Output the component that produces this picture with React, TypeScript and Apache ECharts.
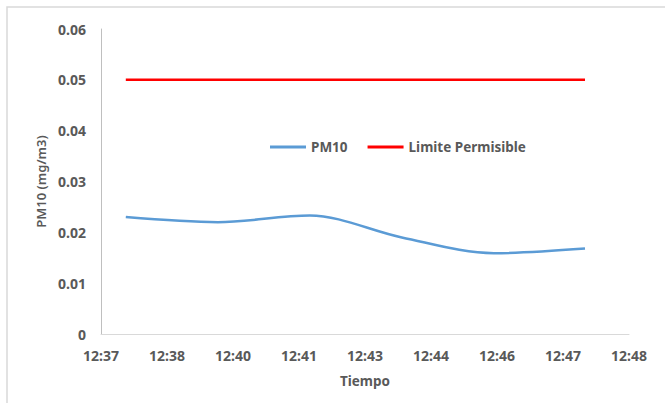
import React, { useEffect, useRef } from "react";
import * as echarts from "echarts";

// Time of each sample, seconds after 12:37:00
const sampleSeconds = [31, 146, 261, 376, 491, 605];
const pm10Values = [0.023, 0.022, 0.0233, 0.019, 0.0159, 0.0168];
const limitValues = [0.05, 0.05, 0.05, 0.05, 0.05, 0.05];
const xTickLabels = ["12:37", "12:38", "12:40", "12:41", "12:43", "12:44", "12:46", "12:47", "12:48"];
const xMax = 660;
const xInterval = 82.5;

const TEXT = "#595959";
const FONT = "'Noto Sans', 'Open Sans', sans-serif";

export default function App() {
  const ref = useRef<HTMLDivElement>(null);
  useEffect(() => {
    if (!ref.current) return;
    const chart = echarts.init(ref.current, null, { renderer: "svg" });
    chart.setOption({
      animation: false,
      backgroundColor: "#ffffff",
      textStyle: { fontFamily: FONT },
      graphic: [
        {
          type: "rect",
          shape: { x: 7, y: 7, width: 720, height: 460 },
          style: { fill: "none", stroke: "#d9d9d9", lineWidth: 1.5 },
          silent: true,
        },
      ],
      grid: { left: 101, right: 36, top: 29, bottom: 69, containLabel: false },
      legend: {
        left: 270,
        top: 140,
        padding: 0,
        icon: "rect",
        itemWidth: 36,
        itemHeight: 3,
        itemGap: 20,
        textStyle: { color: TEXT, fontSize: 13.5, fontWeight: "bold", fontFamily: FONT },
        data: ["PM10", "Limite Permisible"],
      },
      xAxis: {
        type: "value",
        min: 0,
        max: xMax,
        interval: xInterval,
        name: "Tiempo",
        nameLocation: "middle",
        nameGap: 40,
        nameTextStyle: { color: TEXT, fontSize: 13.5, fontWeight: "bold", fontFamily: FONT },
        axisLine: { show: true, lineStyle: { color: "#d9d9d9", width: 1 } },
        axisTick: { show: false },
        splitLine: { show: false },
        axisLabel: {
          color: TEXT,
          fontSize: 14,
          fontWeight: "bold",
          fontFamily: FONT,
          margin: 14,
          showMinLabel: true,
          showMaxLabel: true,
          formatter: (v: number) => xTickLabels[Math.round(v / xInterval)] ?? "",
        },
      },
      yAxis: {
        type: "value",
        min: 0,
        max: 0.06,
        interval: 0.01,
        name: "PM10 (mg/m3)",
        nameLocation: "middle",
        nameGap: 52,
        nameRotate: 90,
        nameTextStyle: { color: TEXT, fontSize: 13, fontWeight: 600, fontFamily: FONT },
        axisLine: { show: true, lineStyle: { color: "#bfbfbf", width: 1 } },
        axisTick: { show: false },
        splitLine: { show: false },
        axisLabel: {
          color: TEXT,
          fontSize: 14,
          fontWeight: "bold",
          fontFamily: FONT,
          margin: 15,
          formatter: (v: number) => (v === 0 ? "0" : v.toFixed(2)),
        },
      },
      series: [
        {
          name: "PM10",
          type: "line",
          data: sampleSeconds.map((s, i) => [s, pm10Values[i]]),
          smooth: 0.33,
          showSymbol: false,
          symbol: "none",
          lineStyle: { color: "#5b9bd5", width: 2.5 },
          itemStyle: { color: "#5b9bd5" },
        },
        {
          name: "Limite Permisible",
          type: "line",
          data: sampleSeconds.map((s, i) => [s, limitValues[i]]),
          showSymbol: false,
          symbol: "none",
          lineStyle: { color: "#ff0000", width: 2.5 },
          itemStyle: { color: "#ff0000" },
        },
      ],
    });
    return () => chart.dispose();
  }, []);
  return (
    <div
      ref={ref}
      style={{ position: "absolute", left: 0, top: 0, width: 665, height: 403 }}
    />
  );
}
